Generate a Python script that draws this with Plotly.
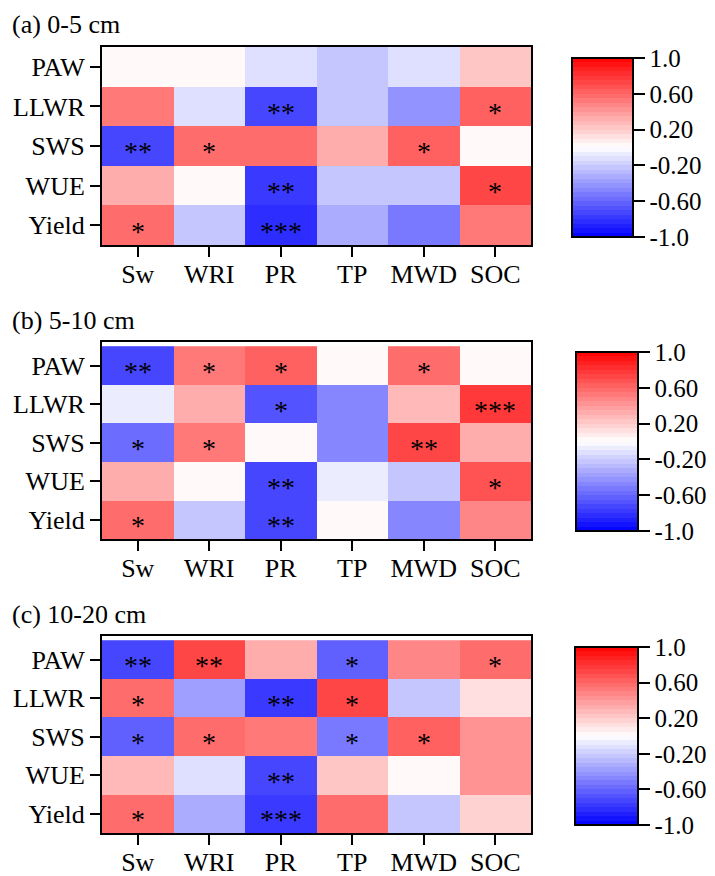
import plotly.graph_objects as go

# Correlation heatmaps of soil physical indicators vs. crop/water variables
cols = ["Sw", "WRI", "PR", "TP", "MWD", "SOC"]
rows = ["PAW", "LLWR", "SWS", "WUE", "Yield"]

# (a) 0-5 cm
r_a = [
    [0.02, 0.00, -0.10, -0.25, -0.10, 0.20],
    [0.50, -0.10, -0.72, -0.25, -0.42, 0.62],
    [-0.72, 0.55, 0.55, 0.35, 0.62, 0.00],
    [0.32, 0.00, -0.80, -0.25, -0.25, 0.70],
    [0.60, -0.20, -0.85, -0.32, -0.52, 0.52],
]
sig_a = [
    ["", "", "", "", "", ""],
    ["", "", "**", "", "", "*"],
    ["**", "*", "", "", "*", ""],
    ["", "", "**", "", "", "*"],
    ["*", "", "***", "", "", ""],
]

# (b) 5-10 cm
r_b = [
    [-0.75, 0.52, 0.62, 0.00, 0.58, 0.00],
    [-0.08, 0.32, -0.70, -0.45, 0.25, 0.75],
    [-0.60, 0.52, 0.00, -0.45, 0.70, 0.35],
    [0.35, 0.00, -0.72, -0.08, -0.20, 0.65],
    [0.60, -0.25, -0.72, 0.00, -0.50, 0.45],
]
sig_b = [
    ["**", "*", "*", "", "*", ""],
    ["", "", "*", "", "", "***"],
    ["*", "*", "", "", "**", ""],
    ["", "", "**", "", "", "*"],
    ["*", "", "**", "", "", ""],
]

# (c) 10-20 cm
r_c = [
    [-0.72, 0.72, 0.32, -0.62, 0.45, 0.55],
    [0.60, -0.38, -0.80, 0.70, -0.25, 0.12],
    [-0.62, 0.58, 0.52, -0.55, 0.62, 0.40],
    [0.25, -0.12, -0.72, 0.20, 0.00, 0.40],
    [0.55, -0.35, -0.78, 0.55, -0.25, 0.18],
]
sig_c = [
    ["**", "**", "", "*", "", "*"],
    ["*", "", "**", "*", "", ""],
    ["*", "*", "", "*", "*", ""],
    ["", "", "**", "", "", ""],
    ["*", "", "***", "", "", ""],
]

titles = ["(a) 0-5 cm", "(b) 5-10 cm", "(c) 10-20 cm"]
cb_ticks = [-1.0, -0.6, -0.2, 0.2, 0.6, 1.0]
cb_labels = ["-1.0", "-0.60", "-0.20", "0.20", "0.60", "1.0"]

W, H = 715, 876
FONT = "Liberation Serif"


def bwr(v):
    if v >= 0:
        g = round(255 * (1 - v))
        return f"rgb(255,{g},{g})"
    g = round(255 * (1 + v))
    return f"rgb({g},{g},255)"


# stepped blue-white-red scale
N = 40
scale = []
for i in range(N):
    c = bwr(-1 + 2 * (i + 0.5) / N)
    scale.append([i / N, c])
    scale.append([(i + 1) / N, c])

# panel frames in pixels: (top, bottom) of heatmap, (top, bottom, left, right) of colorbar, title top
frames = [
    ((47, 245), (58, 237, 572, 633), 8),
    ((342, 539), (352, 531, 576, 638), 304),
    ((636, 833), (647, 825, 575, 638), 598),
]
X0, X1 = 102, 531

fig = go.Figure()
annotations = []
for k, (r, sig, title, fr) in enumerate(zip([r_a, r_b, r_c], [sig_a, sig_b, sig_c], titles, frames)):
    (yt, yb), (ct, cbm, cl, cr), tt = fr
    xa = "x" if k == 0 else f"x{k+1}"
    ya = "y" if k == 0 else f"y{k+1}"
    fig.add_trace(go.Heatmap(
        z=r, x=cols, y=rows, zmin=-1, zmax=1, colorscale=scale,
        xaxis=xa, yaxis=ya,
        colorbar=dict(
            x=cl / W, xanchor="left", y=1 - ct / H, yanchor="top",
            len=cbm - ct, lenmode="pixels", thickness=cr - cl, thicknessmode="pixels",
            xpad=0, ypad=0, outlinewidth=2, outlinecolor="black",
            ticks="outside", ticklen=11, tickwidth=2, tickcolor="black",
            tickvals=cb_ticks, ticktext=cb_labels,
            tickfont=dict(family=FONT, size=25, color="black"),
        ),
    ))
    axis_common = dict(
        showline=True, linewidth=2, linecolor="black", mirror=True,
        ticks="outside", ticklen=10, tickwidth=2, tickcolor="black",
        tickfont=dict(family=FONT, size=26, color="black"),
        showgrid=False, zeroline=False, fixedrange=True, automargin=False,
    )
    fig.update_layout(**{
        ("xaxis" if k == 0 else f"xaxis{k+1}"): dict(
            domain=[X0 / W, X1 / W], anchor=ya, ticklabelstandoff=-5, **axis_common),
        ("yaxis" if k == 0 else f"yaxis{k+1}"): dict(
            domain=[1 - yb / H, 1 - yt / H], anchor=xa, autorange="reversed",
            **axis_common),
    })
    annotations.append(dict(
        text=title, xref="paper", yref="paper", x=10 / W, y=1 - tt / H,
        xanchor="left", yanchor="top", showarrow=False,
        font=dict(family=FONT, size=26, color="black"),
    ))
    for i, rn in enumerate(rows):
        for j, cn in enumerate(cols):
            if sig[i][j]:
                annotations.append(dict(
                    text=sig[i][j], x=cn, y=rn, xref=xa, yref=ya,
                    showarrow=False, yshift=-6,
                    font=dict(family=FONT, size=28, color="black"),
                ))

fig.update_layout(
    template="none",
    width=W, height=H, margin=dict(l=0, r=0, t=0, b=0),
    paper_bgcolor="white", plot_bgcolor="white",
    font=dict(family=FONT, color="black"),
    annotations=annotations, showlegend=False,
)
fig.write_html("out.html")
